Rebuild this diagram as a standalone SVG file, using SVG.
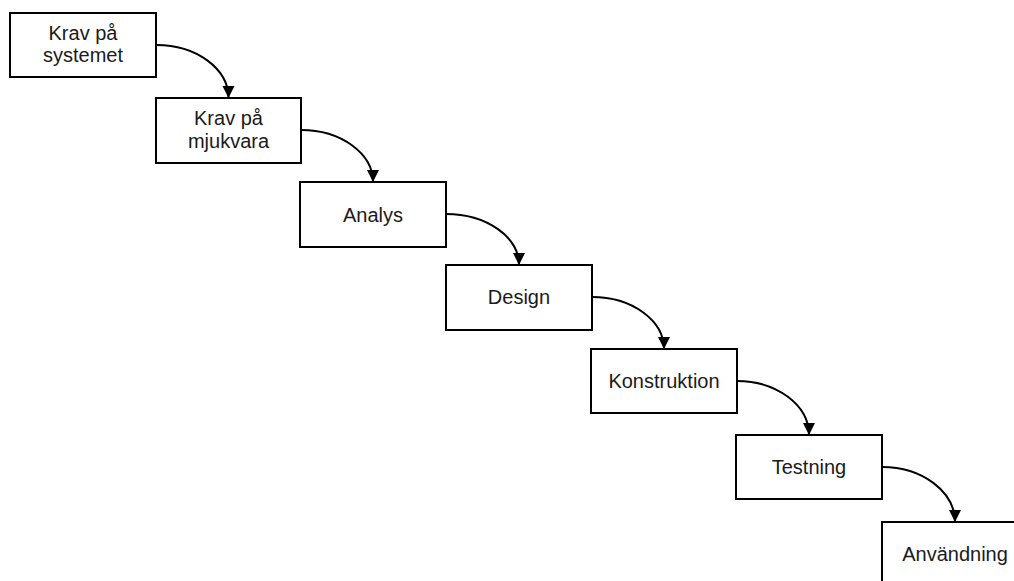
<svg xmlns="http://www.w3.org/2000/svg" width="1014" height="581" viewBox="0 0 1014 581">
<style>
.box{fill:#fff;stroke:#000;stroke-width:2}
.lbl{font-family:"Liberation Sans",Arial,sans-serif;font-size:20px;fill:#1a1a1a;text-anchor:middle}
.arr{fill:none;stroke:#000;stroke-width:2;marker-end:url(#ah)}
</style>
<defs>
<marker id="ah" markerUnits="userSpaceOnUse" markerWidth="14" markerHeight="14" viewBox="0 0 14 14" refX="13" refY="7" orient="auto">
<path d="M1,1 L13,7 L1,13 z" fill="#000"/>
</marker>
</defs>
<rect width="1014" height="581" fill="#fff"/>
<g id="connectors">
<path class="arr" d="M156,45 A72,53 0 0 1 228.5,98"/>
<path class="arr" d="M301,130 A72,52 0 0 1 373,182"/>
<path class="arr" d="M446,214 A73,51 0 0 1 519,265"/>
<path class="arr" d="M592,297 A72,52 0 0 1 664,349"/>
<path class="arr" d="M737,381 A72,54 0 0 1 809,435"/>
<path class="arr" d="M882,467 A73,55 0 0 1 955,522"/>
</g>
<g id="n1"><rect class="box" x="10" y="13" width="146" height="64"/><text class="lbl" x="83" y="40">Krav på</text><text class="lbl" x="83" y="62">systemet</text></g>
<g id="n2"><rect class="box" x="156" y="98" width="145" height="65"/><text class="lbl" x="228.5" y="125">Krav på</text><text class="lbl" x="228.5" y="148">mjukvara</text></g>
<g id="n3"><rect class="box" x="300" y="182" width="146" height="65"/><text class="lbl" x="373" y="221.5">Analys</text></g>
<g id="n4"><rect class="box" x="446" y="265" width="146" height="65"/><text class="lbl" x="519" y="304">Design</text></g>
<g id="n5"><rect class="box" x="591" y="349" width="146" height="64"/><text class="lbl" x="664" y="388">Konstruktion</text></g>
<g id="n6"><rect class="box" x="736" y="435" width="146" height="64"/><text class="lbl" x="809" y="474">Testning</text></g>
<g id="n7"><rect class="box" x="882" y="522" width="146" height="64"/><text class="lbl" x="955" y="561">Användning</text></g>
</svg>
